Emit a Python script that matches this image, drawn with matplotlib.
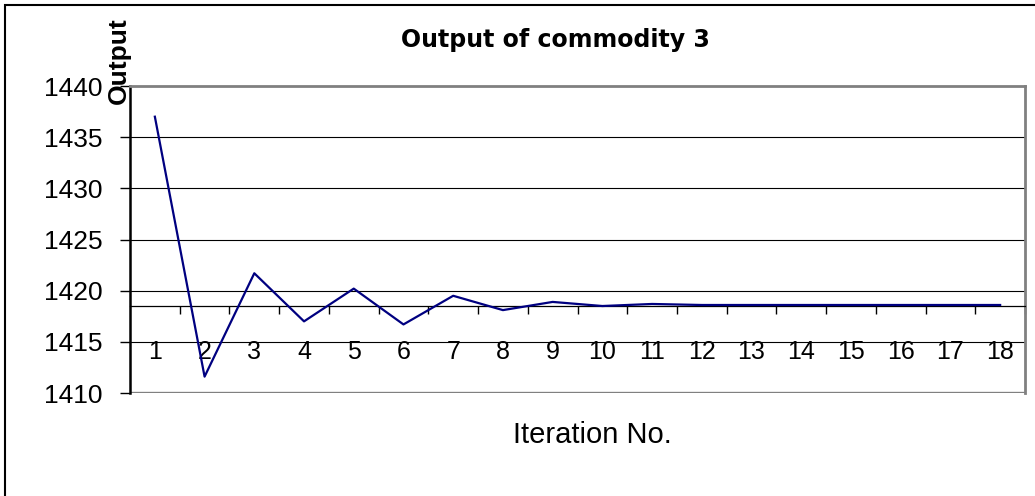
import numpy as np
import matplotlib.pyplot as plt
from matplotlib.patches import Rectangle

# Output of commodity 3 per iteration
iterations = list(range(1, 19))
output = [1437.0, 1411.6, 1421.7, 1417.0, 1420.2, 1416.7, 1419.5, 1418.1, 1418.9,
          1418.5, 1418.7, 1418.6, 1418.6, 1418.6, 1418.6, 1418.6, 1418.6, 1418.6]
y_ticks = [1410, 1415, 1420, 1425, 1430, 1435, 1440]
axis_cross = 1418.55

plt.rcParams['font.family'] = ['Liberation Sans', 'DejaVu Sans']

fig = plt.figure(figsize=(10.35, 4.96), dpi=100)
ax = fig.add_axes([130 / 1035, 1 - 393 / 496, 895 / 1035, 307 / 496])

# frame around the whole chart (only top/left visible in the original)
fig.patches.append(Rectangle((5 / 1035, -0.1), 1.2, 1 - 5 / 496 + 0.1,
                             transform=fig.transFigure, fill=False,
                             edgecolor='black', linewidth=1.5, zorder=0))

ax.plot(iterations, output, color='#000080', linewidth=1.6, zorder=3)

ax.set_xlim(0.5, 18.5)
ax.set_ylim(1410, 1440)
ax.set_yticks(y_ticks)
ax.set_yticklabels([str(v) for v in y_ticks], fontsize=19)
for v in y_ticks[1:-1]:
    ax.axhline(v, color='black', linewidth=0.8, zorder=1)
ax.axhline(1410, color='#808080', linewidth=2.4, zorder=2)

# category axis crosses the value axis near 1418.6
ax.spines['bottom'].set_position(('data', axis_cross))
ax.spines['bottom'].set_linewidth(0.9)
ax.spines['left'].set_linewidth(1.8)
for side in ['top', 'right']:
    ax.spines[side].set_color('#808080')
    ax.spines[side].set_linewidth(2)

ax.set_xticks(iterations)
ax.set_xticklabels([str(i) for i in iterations], fontsize=18)
ax.set_xticks(np.arange(1.5, 18.6, 1), minor=True)
ax.tick_params(axis='x', which='major', length=0, pad=25)
ax.tick_params(axis='x', which='minor', length=6, width=1, direction='out')
ax.tick_params(axis='y', length=7, width=1, direction='out', pad=13)

fig.text(555 / 1035, 1 - 40 / 496, 'Output of commodity 3', ha='center', va='center',
         fontsize=17, fontweight='bold', family='DejaVu Sans')
fig.text(119 / 1035, 1 - 61 / 496, 'Output', ha='center', va='center', rotation=90,
         fontsize=19, fontweight='bold')
fig.text(592 / 1035, 1 - 435 / 496, 'Iteration No.', ha='center', va='center',
         fontsize=21)

fig.savefig('out.png', dpi=100)
